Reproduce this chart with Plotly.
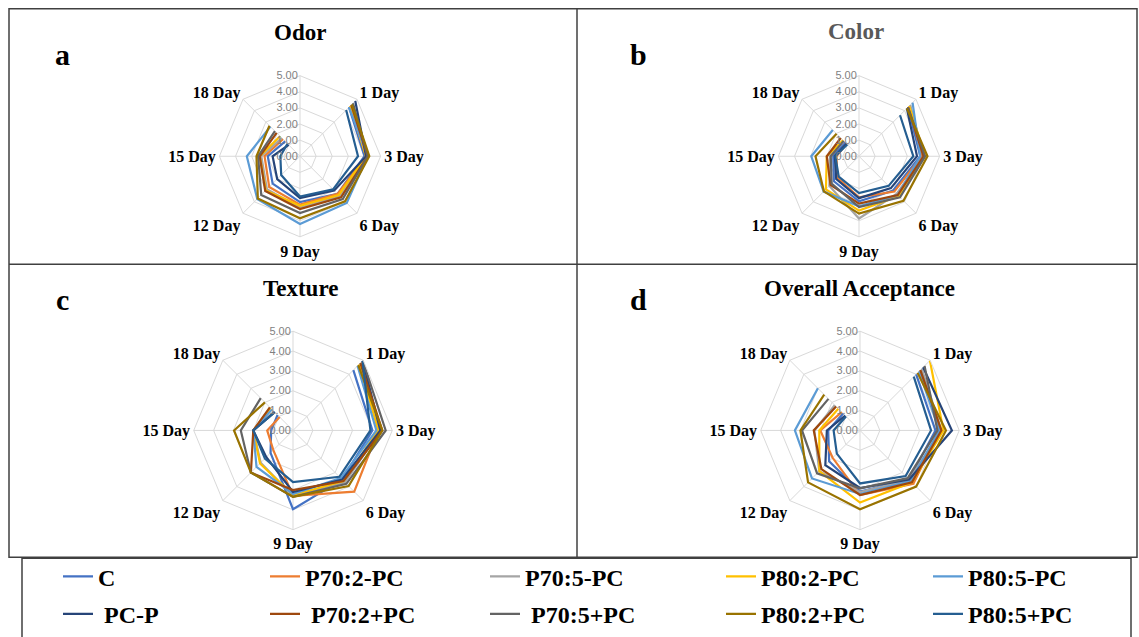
import plotly.graph_objects as go

W, H = 1139, 637

# ---------------- data ----------------
days = ["1 Day", "3 Day", "6 Day", "9 Day", "12 Day", "15 Day", "18 Day"]
series = ["C", "P70:2-PC", "P70:5-PC", "P80:2-PC", "P80:5-PC",
          "PC-P", "P70:2+PC", "P70:5+PC", "P80:2+PC", "P80:5+PC"]
panel_titles = ["Odor", "Color", "Texture", "Overall Acceptance"]
panel_letters = ["a", "b", "c", "d"]
radial_ticks = [0, 1, 2, 3, 4, 5]

# values per series (rows follow `series`), columns follow `days`
odor_values = [
    [4.30, 4.00, 3.30, 2.85, 2.40, 2.00, 1.30],
    [4.40, 4.10, 3.30, 3.00, 2.70, 2.20, 1.50],
    [4.50, 4.15, 3.50, 3.20, 2.90, 2.40, 1.60],
    [4.40, 4.10, 3.40, 3.07, 3.00, 2.50, 1.75],
    [4.30, 4.20, 4.10, 4.20, 3.75, 3.30, 2.60],
    [4.85, 4.10, 3.00, 2.60, 2.00, 1.70, 1.00],
    [4.50, 4.20, 3.60, 3.27, 3.05, 2.50, 2.05],
    [4.65, 4.20, 3.75, 3.52, 3.40, 2.60, 2.20],
    [4.55, 4.30, 3.95, 3.85, 3.70, 2.70, 2.68],
    [4.05, 3.60, 2.90, 2.50, 1.65, 1.22, 1.10],
]
color_values = [
    [4.30, 3.80, 3.00, 2.80, 2.20, 1.60, 1.20],
    [4.40, 3.90, 3.10, 2.55, 1.90, 1.40, 1.10],
    [4.50, 4.00, 3.30, 3.86, 2.60, 1.80, 1.35],
    [4.40, 4.10, 3.50, 3.37, 2.90, 2.00, 1.40],
    [4.70, 3.80, 3.40, 3.10, 3.10, 2.96, 2.30],
    [4.20, 3.60, 2.80, 2.60, 2.00, 1.50, 1.10],
    [4.30, 4.00, 3.40, 2.94, 2.50, 2.00, 1.60],
    [4.30, 4.10, 3.60, 3.15, 2.40, 1.75, 1.35],
    [4.20, 4.25, 3.90, 3.56, 3.08, 2.70, 1.97],
    [3.60, 3.37, 2.60, 2.29, 1.78, 1.47, 1.03],
]
texture_values = [
    [4.30, 4.00, 3.50, 3.97, 1.60, 1.10, 1.10],
    [4.90, 4.30, 4.36, 3.30, 1.40, 1.30, 0.95],
    [4.80, 4.40, 3.70, 3.30, 2.30, 2.00, 1.35],
    [4.70, 4.30, 3.60, 3.25, 2.35, 2.00, 1.60],
    [4.60, 4.20, 3.40, 3.20, 2.60, 2.00, 1.50],
    [4.97, 4.40, 3.50, 3.10, 1.90, 2.00, 1.30],
    [4.80, 4.50, 3.60, 3.00, 3.00, 2.00, 1.65],
    [4.97, 4.67, 3.80, 3.35, 3.00, 2.63, 2.30],
    [4.65, 4.50, 3.96, 3.35, 3.00, 2.97, 2.00],
    [4.95, 3.90, 3.30, 2.60, 2.00, 2.00, 1.30],
]
overall_values = [
    [4.00, 3.80, 3.50, 3.08, 2.20, 1.60, 1.20],
    [4.30, 4.00, 3.80, 3.25, 1.95, 2.00, 1.30],
    [4.40, 4.10, 3.50, 3.10, 2.90, 2.30, 1.80],
    [4.98, 4.20, 3.70, 3.63, 2.90, 2.05, 1.55],
    [4.20, 4.00, 3.60, 3.20, 3.42, 3.28, 3.00],
    [4.50, 4.63, 3.50, 2.90, 2.47, 1.67, 1.05],
    [4.30, 4.10, 3.70, 3.25, 2.75, 2.33, 1.70],
    [4.60, 3.90, 3.40, 2.92, 3.06, 2.92, 2.25],
    [4.10, 4.33, 4.00, 3.97, 3.70, 3.00, 2.55],
    [3.83, 3.58, 3.25, 2.67, 1.65, 1.33, 1.00],
]
panels = [odor_values, color_values, texture_values, overall_values]

# ---------------- styles ----------------
colors = ["#4472C4", "#ED7D31", "#A5A5A5", "#FFC000", "#5B9BD5",
          "#264478", "#9E480E", "#636363", "#997300", "#255E91"]
legend_labels = ["C", "P70:2-PC", "P70:5-PC", "P80:2-PC", "P80:5-PC",
                 "\u00a0PC-P", "\u00a0P70:2+PC", "\u00a0P70:5+PC", "P80:2+PC", "P80:5+PC"]
legend_widths = [162, 175, 191, 162, 150]
# radar centres / radii in window pixels
centers = [(300, 159, 82), (859, 159, 82), (293, 438, 101), (860, 438, 101)]
title_pos = [(300, 33), (856, 32), (300, 294), (859, 294)]
title_colors = ["black", "#595959", "black", "black"]
letter_pos = [(62, 55), (638, 55), (62, 305), (638, 305)]

SERIF = "Liberation Serif, Times New Roman, serif"


def px(x):
    return x / W


def py(y):
    return 1 - y / H


blank = " "
theta_cats = [blank] + days

fig = go.Figure()
for p, values in enumerate(panels):
    sub = "polar" if p == 0 else f"polar{p + 1}"
    for i, name in enumerate(series):
        fig.add_trace(go.Scatterpolar(
            r=[None] + values[i],
            theta=theta_cats,
            mode="lines",
            name=legend_labels[i],
            line=dict(color=colors[i], width=2.2),
            subplot=sub,
            showlegend=(p == 0),
            legend="legend" if i < 5 else "legend2",
            legendwidth=legend_widths[i % 5],
            connectgaps=False,
            hoverinfo="skip",
        ))

layout = dict(
    width=W, height=H,
    margin=dict(l=0, r=0, t=0, b=0),
    paper_bgcolor="white",
    plot_bgcolor="white",
    annotations=[], shapes=[],
)

for p, (cx, cy, r) in enumerate(centers):
    key = "polar" if p == 0 else f"polar{p + 1}"
    layout[key] = dict(
        domain=dict(x=[px(cx - r), px(cx + r)], y=[py(cy + r), py(cy - r)]),
        bgcolor="white",
        gridshape="linear",
        angularaxis=dict(
            type="category",
            categoryorder="array",
            categoryarray=theta_cats,
            direction="clockwise",
            rotation=90,
            showline=True, linecolor="#d9d9d9", linewidth=1,
            gridcolor="#d9d9d9", gridwidth=1,
            ticks="", ticklen=0,
            tickfont=dict(family=SERIF, size=16, color="black", weight="bold"),
        ),
        radialaxis=dict(
            range=[0, 5],
            tickvals=radial_ticks,
            tickformat=".2f",
            angle=90,
            side="counterclockwise",
            showline=False,
            ticks="",
            gridcolor="#d9d9d9", gridwidth=1,
            tickfont=dict(family="Liberation Sans Narrow, Liberation Sans, Arial", size=11, color="#7f7f7f"),
            tickangle=90,
        ),
    )

for p in range(4):
    tx, ty = title_pos[p]
    layout["annotations"].append(dict(
        x=px(tx), y=py(ty), xref="paper", yref="paper", showarrow=False,
        text=panel_titles[p], xanchor="center", yanchor="middle",
        font=dict(family=SERIF, size=23, color=title_colors[p], weight="bold")))
    lx, ly = letter_pos[p]
    layout["annotations"].append(dict(
        x=px(lx), y=py(ly), xref="paper", yref="paper", showarrow=False,
        text=panel_letters[p], xanchor="center", yanchor="middle",
        font=dict(family=SERIF, size=30, color="black", weight="bold")))

border = dict(color="#404040", width=1.5)
layout["shapes"] += [
    dict(type="rect", xref="paper", yref="paper", x0=px(9), x1=px(1137), y0=py(567), y1=py(9), line=border),
    dict(type="line", xref="paper", yref="paper", x0=px(577), x1=px(577), y0=py(567), y1=py(9), line=border),
    dict(type="line", xref="paper", yref="paper", x0=px(9), x1=px(1137), y0=py(269), y1=py(269), line=border),
    dict(type="rect", xref="paper", yref="paper", x0=px(22), x1=px(1131), y0=py(650), y1=py(568), line=border),
]

legend_font = dict(family=SERIF, size=24, color="black", weight="bold")
layout["legend"] = dict(orientation="h", x=px(58), xanchor="left", y=py(587), yanchor="middle",
                        font=legend_font, bgcolor="rgba(0,0,0,0)", itemwidth=30,
                        entrywidthmode="pixels", tracegroupgap=0)
layout["legend2"] = dict(orientation="h", x=px(58), xanchor="left", y=py(625), yanchor="middle",
                         font=legend_font, bgcolor="rgba(0,0,0,0)", itemwidth=30,
                         entrywidthmode="pixels", tracegroupgap=0)

fig.update_layout(**layout)
# remove the default page margin so the figure fills the window exactly
page_fix = ("document.documentElement.style.margin='0';document.body.style.margin='0';"
            "document.documentElement.style.overflow='hidden';document.body.style.overflow='hidden';")
fig.write_html("out.html", post_script=page_fix, config={"displayModeBar": False})
